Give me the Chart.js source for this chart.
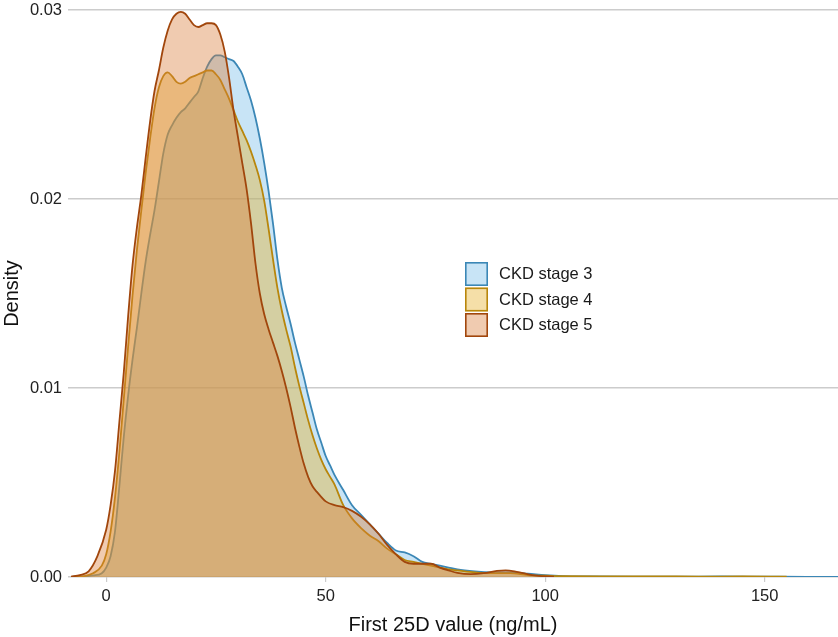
<!DOCTYPE html>
<html><head><meta charset="utf-8">
<script src="https://cdn.jsdelivr.net/npm/chart.js@4.4.1/dist/chart.umd.min.js"></script>
<style>html,body{margin:0;padding:0;background:#fff}#wrap{width:838px;height:637px;position:relative}</style>
</head><body><div id="wrap"><canvas id="c"></canvas></div>
<script>
// ---- data ----
const seriesLabels = ["CKD stage 3", "CKD stage 4", "CKD stage 5"];

const stage3X = [-8,-5,-3,-1,0,1,2,3,4,5,6,7,8,9,10,11,12,13,14,15,16,17,18,19,20,21,22,23,24,25,26,27,28,29,30,31,32,33,34,35,36,37,38,39,40,41,42,43,44,45,46,47,48,49,50,51,52,54,56,58,60,62,64,66,68,70,72,74,76,78,80,84,88,92,96,100,104,110,120,130,140,150,160,166.7];
const stage3Y = [0.00001,0.00003,0.00008,0.0002,0.0005,0.0011,0.0024,0.0048,0.0074,0.0096,0.0115,0.0132,0.0150,0.0167,0.0181,0.0194,0.0209,0.0224,0.0234,0.0239,0.0243,0.0246,0.0248,0.0251,0.0254,0.0257,0.0264,0.0270,0.0274,0.0276,0.0276,0.0275,0.0274,0.0273,0.0270,0.0266,0.0259,0.0252,0.0243,0.0232,0.0219,0.0204,0.0187,0.0168,0.0153,0.0143,0.0134,0.0124,0.0115,0.0106,0.0096,0.0087,0.0078,0.0071,0.0064,0.0059,0.0054,0.0046,0.0038,0.0033,0.0028,0.0023,0.0018,0.0014,0.0013,0.0011,0.0008,0.0007,0.0006,0.0005,0.0004,0.0003,0.00025,0.00024,0.00018,0.0001,0.00005,0.00003,0.00002,0.00002,0.00003,0.00002,0.00001,0.00001];

const stage4X = [-8,-5,-3,-1,0,1,2,3,4,5,6,7,8,9,10,11,12,13,14,15,16,17,18,19,20,21,22,23,24,25,26,27,28,29,30,31,32,33,34,35,36,37,38,39,40,41,42,43,44,45,46,47,48,49,50,51,52,54,56,58,60,62,64,66,68,70,72,74,76,78,80,84,88,92,96,100,104,115,125,135,145,155];
const stage4Y = [0.00001,0.00005,0.0002,0.0006,0.0012,0.0024,0.0042,0.0066,0.0094,0.0122,0.0149,0.0173,0.0194,0.0214,0.0232,0.0248,0.0259,0.0265,0.0267,0.0265,0.0262,0.0261,0.0262,0.0264,0.0265,0.0266,0.0267,0.0268,0.0268,0.0266,0.0263,0.0258,0.0253,0.0247,0.0241,0.0236,0.0231,0.0225,0.0218,0.0210,0.0199,0.0184,0.0168,0.0153,0.0141,0.0131,0.0122,0.0111,0.0101,0.0092,0.0083,0.0075,0.0068,0.0062,0.0057,0.0053,0.0049,0.0038,0.0031,0.0026,0.0022,0.0019,0.0015,0.0012,0.0009,0.0008,0.0007,0.0006,0.0005,0.0004,0.00035,0.00025,0.0002,0.0002,0.0001,0.00007,0.00004,0.00003,0.00003,0.00002,0.00003,0.00002];

const stage5X = [-8,-6,-4,-2,0,1,2,3,4,5,6,7,8,9,10,11,12,13,14,15,16,17,18,19,20,21,22,23,24,25,26,27,28,29,30,31,32,33,34,35,36,37,38,39,40,41,42,43,44,45,46,47,48,50,52,54,56,58,60,62,64,66,68,70,72,74,76,78,80,83,86,89,91,93,95,98,102];
const stage5Y = [0.00002,0.0001,0.0003,0.0011,0.0025,0.0038,0.0056,0.0082,0.0108,0.0138,0.0165,0.0185,0.0202,0.0222,0.0241,0.0257,0.0268,0.0280,0.0289,0.0295,0.0298,0.0299,0.0298,0.0295,0.0292,0.0291,0.0292,0.0293,0.0293,0.0292,0.0287,0.0278,0.0264,0.0247,0.0233,0.0219,0.0205,0.0187,0.0166,0.0150,0.0139,0.0131,0.0124,0.0117,0.0109,0.0100,0.0090,0.0079,0.0069,0.0060,0.0053,0.0048,0.0045,0.0040,0.0038,0.0037,0.0035,0.0032,0.0028,0.0023,0.0017,0.0012,0.0008,0.0007,0.0007,0.0007,0.0005,0.00035,0.00022,0.00015,0.0002,0.00032,0.00035,0.0003,0.0002,0.00007,0.00002];

const xTicks = [0, 50, 100, 150];
const yTicks = [0, 0.01, 0.02, 0.03];
const xAxisTitle = "First 25D value (ng/mL)";
const yAxisTitle = "Density";

// ---- styles ----
const FONT = '"Liberation Sans", Arial, Helvetica, sans-serif';
const lineColors = ['#3b87b6', '#b8860b', '#a1460c'];
const fillColors = ['rgba(118,188,233,0.4)', 'rgba(230,175,38,0.4)', 'rgba(218,125,58,0.4)'];

const seriesX = [stage3X, stage4X, stage5X];
const seriesY = [stage3Y, stage4Y, stage5Y];

const insideLegend = {
  id: 'insideLegend',
  afterDraw(chart) {
    const ca = chart.chartArea;
    const ctx = chart.ctx;
    const bx = ca.left + (465 - 68) / 770 * (ca.right - ca.left);
    const by = ca.top + (262 - 10) / 567 * (ca.bottom - ca.top);
    const bw = 23, bh = 24, step = 25.5;
    ctx.save();
    chart.data.datasets.forEach((ds, i) => {
      const y = by + i * step;
      ctx.fillStyle = '#fff';
      ctx.fillRect(bx, y, bw, bh);
      ctx.fillStyle = ds.backgroundColor;
      ctx.fillRect(bx, y, bw, bh);
      ctx.strokeStyle = ds.borderColor;
      ctx.lineWidth = 1.6;
      ctx.strokeRect(bx + 0.8, y + 0.8, bw - 1.6, bh - 1.6);
      ctx.fillStyle = '#1a1a1a';
      ctx.font = '16.5px ' + FONT;
      ctx.textBaseline = 'middle';
      ctx.textAlign = 'left';
      ctx.fillText(ds.label, bx + 34, y + bh / 2 + 0.5);
    });
    ctx.restore();
  }
};

new Chart(document.getElementById('c'), {
  type: 'line',
  data: {
    datasets: seriesLabels.map((label, i) => ({
      label,
      data: seriesX[i].map((x, j) => ({ x, y: seriesY[i][j] })),
      borderColor: lineColors[i],
      backgroundColor: fillColors[i],
      fill: 'origin',
      pointRadius: 0,
      borderWidth: 1.8,
      cubicInterpolationMode: 'monotone',
      order: 3 - i
    }))
  },
  options: {
    responsive: true,
    maintainAspectRatio: false,
    animation: false,
    layout: { padding: { top: 0, right: 0, left: 0, bottom: 0 } },
    plugins: { legend: { display: false }, tooltip: { enabled: false } },
    scales: {
      x: {
        type: 'linear', min: -8.7, max: 166.7,
        afterBuildTicks: s => { s.ticks = xTicks.map(v => ({ value: v })); },
        afterFit: s => { s.height = 60; s.paddingLeft = 0; s.paddingRight = 0; },
        ticks: { font: { family: FONT, size: 16.5 }, color: '#222', padding: 5, maxRotation: 0, autoSkip: false },
        grid: { drawOnChartArea: false, drawTicks: true, tickLength: 5, color: '#cccccc', lineWidth: 1.2 },
        border: { display: false },
        title: { display: true, text: xAxisTitle, font: { family: FONT, size: 20 }, color: '#111', padding: { top: 4, bottom: 0 } }
      },
      y: {
        type: 'linear', min: 0, max: 0.03,
        afterBuildTicks: s => { s.ticks = yTicks.map(v => ({ value: v })); },
        afterFit: s => { s.width = 68; s.paddingTop = 10; s.paddingBottom = 0; },
        ticks: { callback: v => Number(v).toFixed(2), font: { family: FONT, size: 16.5 }, color: '#222', padding: 6 },
        grid: { drawTicks: false, color: '#cccccc', lineWidth: 1.6 },
        border: { display: false },
        title: { display: true, text: yAxisTitle, font: { family: FONT, size: 20 }, color: '#111', padding: { top: 0, bottom: 0 } }
      }
    }
  },
  plugins: [insideLegend]
});
</script>
</body></html>
